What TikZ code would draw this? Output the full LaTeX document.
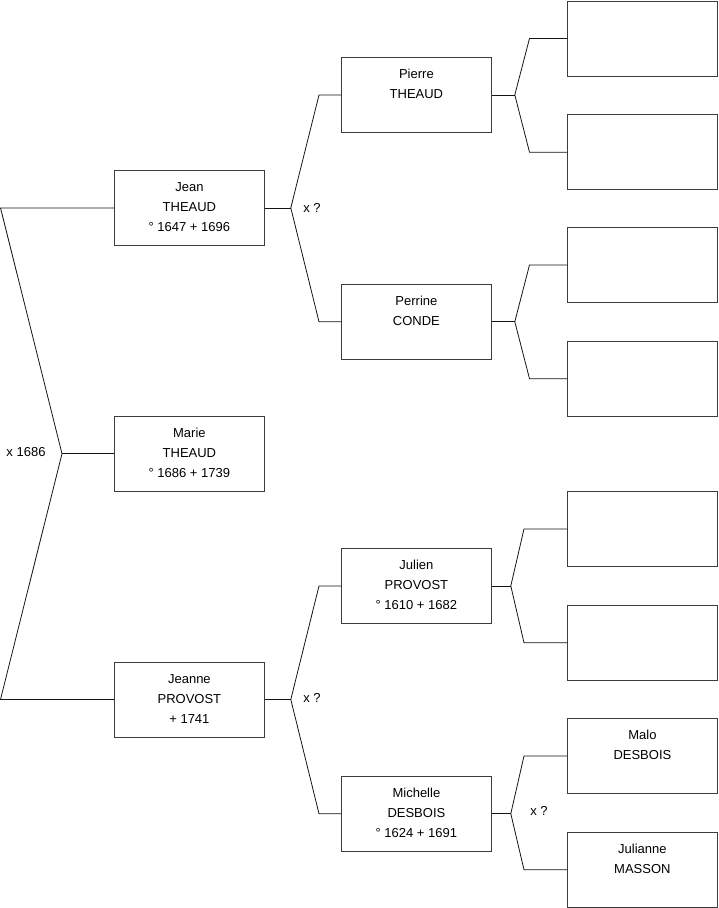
\documentclass[tikz,border=0pt]{standalone}
\usepackage{fontspec}
\setmainfont{Liberation Sans}
\usepackage{tikz}
\usetikzlibrary{positioning}
\definecolor{boxline}{RGB}{60,60,60}
\definecolor{linkline}{RGB}{20,20,20}
\tikzstyle{person} = [rectangle, draw=boxline, line width=0.8pt,
inner sep=0pt, anchor=north west]
\tikzstyle{link} = [draw=linkline, line width=0.8pt]
\tikzstyle{wedding} = [font=\fontsize{13pt}{15pt}\selectfont, inner sep=0pt]
% box of 151 x 76, text from the top
\newcommand{\who}[1]{\parbox[c][75pt][t]{150pt}{\centering
\fontsize{13pt}{20pt}\selectfont\rule{0pt}{21.5pt}#1}}

\begin{document}
\begin{tikzpicture}[x=1pt, y=-1pt]
    \useasboundingbox (0,0) rectangle (719,908);
    % generation 1
    \node (jean)   [person] at (114,170) {\who{Jean\\THEAUD\\° 1647 + 1696}};
    \node (marie)  [person, below=170pt of jean]  {\who{Marie\\THEAUD\\° 1686 + 1739}};
    \node (jeanne) [person, below=170pt of marie] {\who{Jeanne\\PROVOST\\+ 1741}};
    % generation 2
    \node (pierre)   [person] at (341,57) {\who{Pierre\\THEAUD}};
    \node (perrine)  [person, below=151pt of pierre] {\who{Perrine\\CONDE}};
    \node (julien)   [person] at (341,548) {\who{Julien\\PROVOST\\° 1610 + 1682}};
    \node (michelle) [person, below=152pt of julien] {\who{Michelle\\DESBOIS\\° 1624 + 1691}};
    % generation 3
    \node (pierreF)   [person] at (567,0.5) {\who{}};
    \node (pierreM)   [person, below=38pt of pierreF] {\who{}};
    \node (perrineF)  [person] at (567,227) {\who{}};
    \node (perrineM)  [person, below=38pt of perrineF] {\who{}};
    \node (julienF)   [person] at (567,491) {\who{}};
    \node (julienM)   [person, below=38pt of julienF] {\who{}};
    \node (malo)      [person] at (567,718) {\who{Malo\\DESBOIS}};
    \node (julianne)  [person, below=38pt of malo] {\who{Julianne\\MASSON}};

    % fork points
    \coordinate (edge) at (0.5,0);
    \coordinate (w0) at ([xshift=-52pt]marie.west);
    \coordinate (w1) at ([xshift=26pt]jean.east);
    \coordinate (w2) at ([xshift=26pt]jeanne.east);
    \coordinate (bend2) at (319,0);
    \coordinate (w3) at ([xshift=23pt]pierre.east);
    \coordinate (w4) at ([xshift=23pt]perrine.east);
    \coordinate (bend3) at (529.5,0);
    \coordinate (w5) at ([xshift=19pt]julien.east);
    \coordinate (w6) at ([xshift=19pt]michelle.east);
    \coordinate (bend4) at (524,0);

    \node (wed0) [wedding] at (26,452) {x 1686};
    \node (wed1) [wedding] at (312,208) {x ?};
    \node (wed2) [wedding] at (312,698) {x ?};
    \node (wed3) [wedding] at (539,811) {x ?};

    \draw[link] (jean.west) -- (jean.west -| edge) -- (w0)
        -- (jeanne.west -| edge) -- (jeanne.west);
    \draw[link] (w0) -- (marie.west);

    \draw[link] (jean.east) -- (w1);
    \draw[link] (pierre.west) -- (pierre.west -| bend2) -- (w1)
        -- (perrine.west -| bend2) -- (perrine.west);
    \draw[link] (jeanne.east) -- (w2);
    \draw[link] (julien.west) -- (julien.west -| bend2) -- (w2)
        -- (michelle.west -| bend2) -- (michelle.west);

    \draw[link] (pierre.east) -- (w3);
    \draw[link] (pierreF.west) -- (pierreF.west -| bend3) -- (w3)
        -- (pierreM.west -| bend3) -- (pierreM.west);
    \draw[link] (perrine.east) -- (w4);
    \draw[link] (perrineF.west) -- (perrineF.west -| bend3) -- (w4)
        -- (perrineM.west -| bend3) -- (perrineM.west);
    \draw[link] (julien.east) -- (w5);
    \draw[link] (julienF.west) -- (julienF.west -| bend4) -- (w5)
        -- (julienM.west -| bend4) -- (julienM.west);
    \draw[link] (michelle.east) -- (w6);
    \draw[link] (malo.west) -- (malo.west -| bend4) -- (w6)
        -- (julianne.west -| bend4) -- (julianne.west);
\end{tikzpicture}
\end{document}
